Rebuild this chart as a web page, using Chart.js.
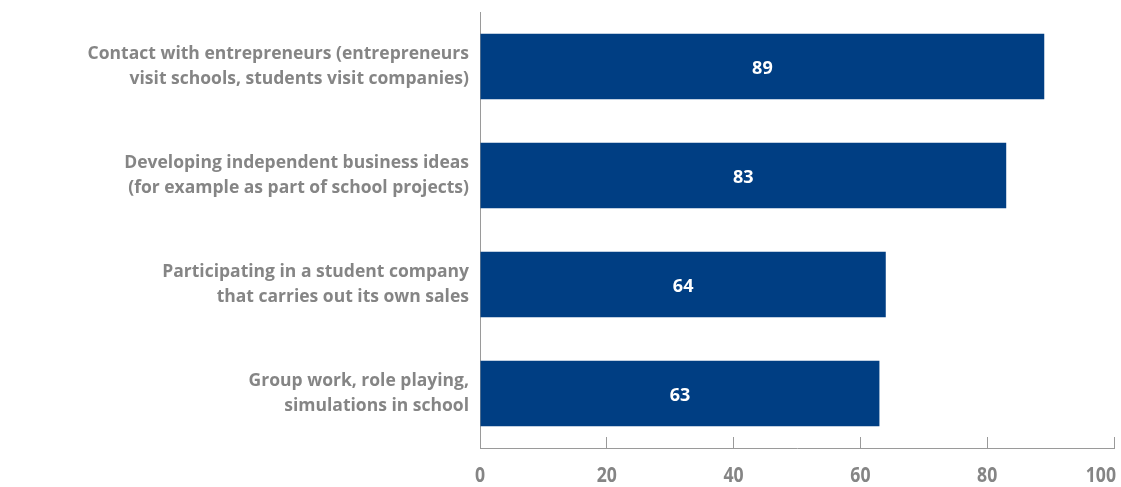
<!DOCTYPE html>
<html>
<head>
<meta charset="utf-8">
<script src="https://cdn.jsdelivr.net/npm/chart.js@4/dist/chart.umd.min.js"></script>
<style>
    html, body { margin: 0; padding: 0; background: #fff; }
    #wrap { width: 1121px; height: 487px; }
</style>
</head>
<body>
<div id="wrap"><canvas id="activities-chart"></canvas></div>
<script>

    // Data

    var categories = [
        ['Contact with entrepreneurs (entrepreneurs', 'visit schools, students visit companies)'],
        ['Developing independent business ideas', '(for example as part of school projects)'],
        ['Participating in a student company', 'that carries out its own sales'],
        ['Group work, role playing,', 'simulations in school']
    ];
    var shares = [89, 83, 64, 63];
    var xTicks = [0, 20, 40, 60, 80, 100];

    var barColor = '#003e83';
    var textGrey = '#858585';
    var axisGrey = '#9a9a9a';


    // Value labels inside the bars

    var barValues = {
        id: 'barValues',
        afterDatasetsDraw: function (chart) {
            var ctx = chart.ctx;
            var meta = chart.getDatasetMeta(0);
            ctx.save();
            ctx.fillStyle = '#ffffff';
            ctx.font = 'bold 18px "Open Sans", sans-serif';
            ctx.textAlign = 'center';
            ctx.textBaseline = 'middle';
            meta.data.forEach(function (bar, i) {
                var x = (bar.base + bar.x) / 2;
                ctx.fillText(String(shares[i]), x, bar.y + 2);
            });
            ctx.restore();
        }
    };

    // Condensed tick numbers under the x axis

    var xLabels = {
        id: 'xLabels',
        afterDraw: function (chart) {
            var ctx = chart.ctx;
            var scale = chart.scales.x;
            var squeeze = 0.84;
            ctx.save();
            ctx.fillStyle = textGrey;
            ctx.font = 'bold 21px "Open Sans", sans-serif';
            ctx.textBaseline = 'middle';
            ctx.textAlign = 'center';
            xTicks.forEach(function (v) {
                var text = String(v);
                var x = scale.getPixelForValue(v);
                var half = ctx.measureText(text).width * squeeze / 2;
                // keep the last number inside the canvas
                x = Math.min(x, chart.width - 5 - half);
                ctx.save();
                ctx.translate(x, 476);
                ctx.scale(squeeze, 1);
                ctx.fillText(text, 0, 0);
                ctx.restore();
            });
            ctx.restore();
        }
    };


    // Chart

    var chart = new Chart(document.getElementById('activities-chart'), {
        type: 'bar',
        data: {
            labels: categories,
            datasets: [{
                data: shares,
                backgroundColor: barColor,
                barPercentage: 0.6,
                categoryPercentage: 1
            }]
        },
        options: {
            indexAxis: 'y',
            responsive: true,
            maintainAspectRatio: false,
            animation: false,
            layout: {
                padding: { top: 12, left: 0, right: 7, bottom: 0 }
            },
            plugins: {
                legend: { display: false },
                tooltip: { enabled: false }
            },
            scales: {
                x: {
                    min: 0,
                    max: 100,
                    afterBuildTicks: function (scale) {
                        scale.ticks = xTicks.map(function (v) { return { value: v }; });
                    },
                    afterFit: function (scale) {
                        scale.height = 39;
                        scale.paddingLeft = 0;
                        scale.paddingRight = 0;
                    },
                    grid: {
                        drawOnChartArea: false,
                        tickLength: -11,
                        color: axisGrey,
                        lineWidth: 1
                    },
                    border: { color: axisGrey, width: 1 },
                    ticks: { display: false }
                },
                y: {
                    afterFit: function (scale) {
                        scale.width = 480;
                        scale.paddingTop = 0;
                        scale.paddingBottom = 0;
                    },
                    grid: { display: false },
                    border: { color: axisGrey, width: 1 },
                    ticks: {
                        padding: 3,
                        color: textGrey,
                        font: { family: '"Open Sans", sans-serif', size: 17.5, weight: 'bold', lineHeight: 1.45 }
                    }
                }
            }
        },
        plugins: [barValues, xLabels]
    });

</script>
</body>
</html>
